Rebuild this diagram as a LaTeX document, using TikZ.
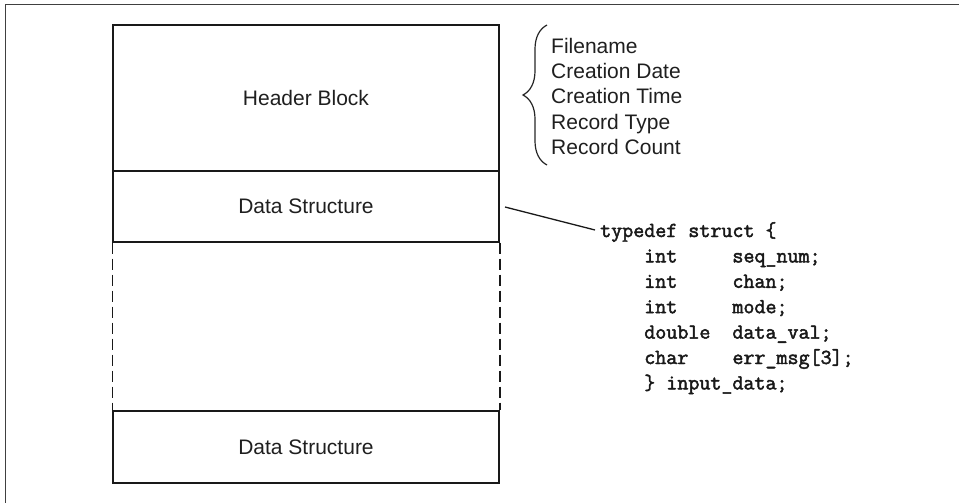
\documentclass[tikz,border=0pt]{standalone}
\usepackage{fontspec}
\setmainfont{Liberation Sans}
\newfontfamily\codefont{Latin Modern Mono}[FakeBold=2.2]
\usetikzlibrary{decorations.pathreplacing}
\begin{document}
\begin{tikzpicture}[x=1pt,y=-1pt,
  txt/.style={font=\fontsize{21}{25.4}\selectfont, text=black!88},
  blockbox/.style={draw=black!90, line width=1.4pt, minimum width=386pt, inner sep=0pt, txt},
  headbox/.style={blockbox, line width=2.4pt},
  gapline/.style={draw=black!90, line width=1.6pt, dash pattern=on 11pt off 5pt},
  frameline/.style={draw=black!75, line width=1pt},
  link/.style={draw=black!90, line width=1.3pt},
  codetxt/.style={font=\fontsize{21.4}{25.4}\selectfont\codefont, text=black!90, align=left, inner sep=0pt}
]
\useasboundingbox (0,0) rectangle (959,503);
% frame
\coordinate (ftl) at (5,5);
\coordinate (ftr) at (959,5);
\coordinate (fbl) at (5,503);
\draw[frameline] (ftr) -- (ftl) -- (fbl);
% blocks
\node[headbox, minimum height=146pt] (hdr) at (306,98) {Header Block};
\node[blockbox, minimum height=71pt] (ds1) at (306,206.5) {Data Structure};
\node[blockbox, minimum height=72pt] (ds2) at (306,447) {Data Structure};
\draw[gapline] (ds1.south west) -- (ds2.north west);
\draw[gapline] (ds1.south east) -- (ds2.north east);
% brace and header fields
\coordinate (bb) at (547,165);
\coordinate (bt) at (547,25);
\draw[black!85, line width=1.2pt, decorate, decoration={brace, amplitude=24pt, aspect=0.5}] (bb) -- (bt);
\node[txt, anchor=base west, align=left, inner sep=0pt] (fields) at (551,154.6)
  {Filename\\Creation Date\\Creation Time\\Record Type\\Record Count};
% code
\node[codetxt, anchor=base west] (code) at (600,389.4)
  {typedef struct \{\\
   ~~~~int~~~~~seq\_num;\\
   ~~~~int~~~~~chan;\\
   ~~~~int~~~~~mode;\\
   ~~~~double~~data\_val;\\
   ~~~~char~~~~err\_msg[3];\\
   ~~~~\}~input\_data;};
\coordinate (ls) at (505,207);
\coordinate (le) at (595,230);
\draw[link] (ls) -- (le);
\end{tikzpicture}
\end{document}
